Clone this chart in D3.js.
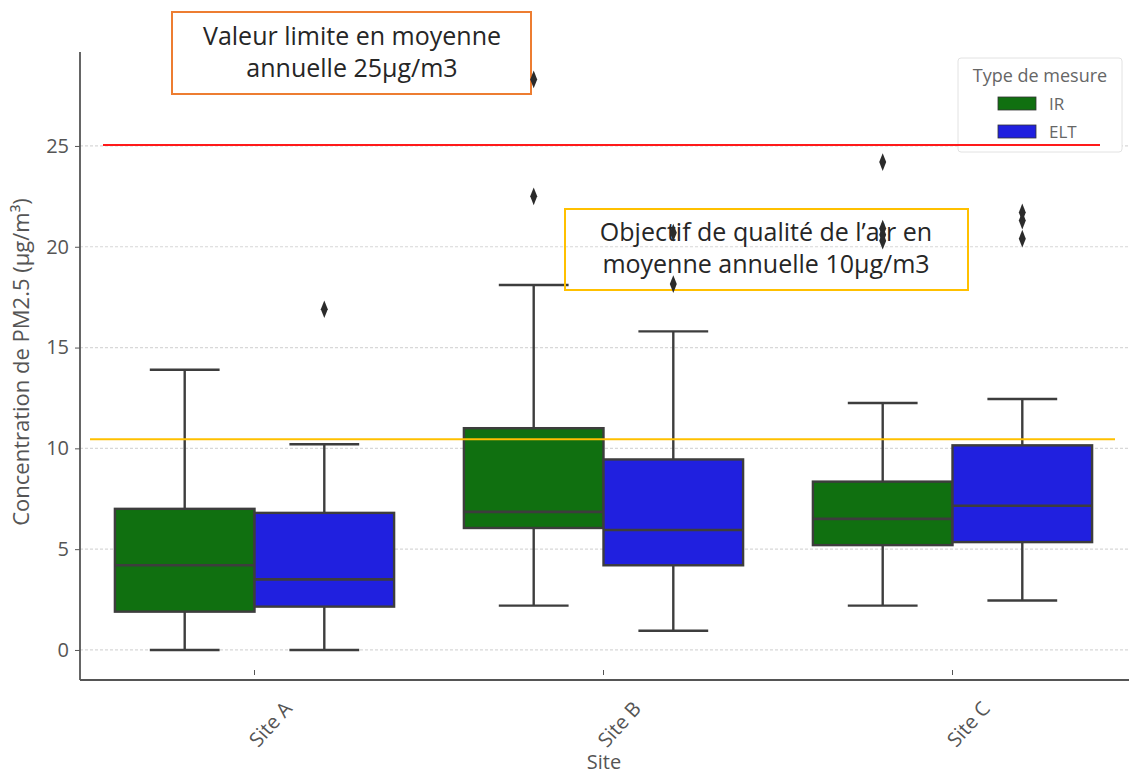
<!DOCTYPE html>
<html>
<head>
<meta charset="utf-8">
<script src="https://cdn.jsdelivr.net/npm/d3@7"></script>
<style>
  body { margin: 0; background: #fff; }
  text { font-family: "Open Sans", "Noto Sans", sans-serif; }
</style>
</head>
<body>
<div id="chart"></div>
<script>
// data
var sites = ["Site A", "Site B", "Site C"];
var mesures = ["IR", "ELT"];
var yTicks = [0, 5, 10, 15, 20, 25];

// box stats per site, per series
var irLow    = [0.0, 2.2, 2.2];
var irQ1     = [1.9, 6.05, 5.2];
var irMedian = [4.2, 6.85, 6.5];
var irQ3     = [7.0, 11.0, 8.35];
var irHigh   = [13.9, 18.1, 12.25];
var irOut    = [[], [22.5, 28.3], [24.2, 20.9, 20.6, 20.3]];

var eltLow    = [0.0, 0.95, 2.45];
var eltQ1     = [2.15, 4.2, 5.35];
var eltMedian = [3.5, 5.95, 7.15];
var eltQ3     = [6.8, 9.45, 10.15];
var eltHigh   = [10.2, 15.8, 12.45];
var eltOut    = [[16.9], [20.7, 18.15], [21.7, 21.3, 20.4]];

var valeurLimite = 25.05;
var objectifQualite = 10.45;

var svgWidth = 1129;
var svgHeight = 778;

var svg = d3.select("#chart")
  .append("svg")
  .attr("width", svgWidth)
  .attr("height", svgHeight);

var x = d3.scaleBand().domain(sites).range([80, 1127]).padding(0);
var xHue = d3.scaleBand().domain(mesures).range([0, x.bandwidth() * 0.8]);
var y = d3.scaleLinear().domain([-1.49, 29.66]).range([680, 52]);
var colors = { "IR": "#107010", "ELT": "#2020df" };

// build series table
var series = [
  { name: "IR", low: irLow, q1: irQ1, med: irMedian, q3: irQ3, high: irHigh, out: irOut },
  { name: "ELT", low: eltLow, q1: eltQ1, med: eltMedian, q3: eltQ3, high: eltHigh, out: eltOut }
];
var boxes = [];
series.forEach(function(s) {
  sites.forEach(function(site, i) {
    boxes.push({ site: site, name: s.name, low: s.low[i], q1: s.q1[i], med: s.med[i],
                 q3: s.q3[i], high: s.high[i], out: s.out[i] });
  });
});
function left(d) { return x(d.site) + x.bandwidth() * 0.1 + xHue(d.name); }
function mid(d) { return left(d) + xHue.bandwidth() / 2; }

// gridlines
svg.append("g")
  .selectAll("line")
  .data(yTicks)
  .enter()
  .append("line")
  .attr("x1", 80).attr("x2", 1129)
  .attr("y1", d => y(d)).attr("y2", d => y(d))
  .attr("stroke", "#d8d8d8")
  .attr("stroke-width", 1.2)
  .attr("stroke-dasharray", "3,2");

// axes
var yAxis = svg.append("g")
  .attr("transform", "translate(80,0)")
  .call(d3.axisLeft(y).tickValues(yTicks).tickSize(5).tickPadding(6));
yAxis.select(".domain").remove();
yAxis.selectAll("line").attr("stroke", "#555");
yAxis.selectAll("text").attr("font-size", "20px").attr("fill", "#555")
  .style("font-family", "'Open Sans', sans-serif");

var xAxis = svg.append("g")
  .attr("transform", "translate(0,680)")
  .call(d3.axisBottom(x).tickSize(5).tickPadding(6));
xAxis.select(".domain").remove();
xAxis.selectAll("line").attr("stroke", "#555").attr("transform", "translate(0,-5) scale(1,-1)");
xAxis.selectAll("text")
  .attr("font-size", "20px").attr("fill", "#555")
  .style("font-family", "'Open Sans', sans-serif")
  .attr("text-anchor", "end")
  .attr("dy", "0.3em")
  .attr("transform", "translate(26,18) rotate(-48)");

// spines
svg.append("line").attr("x1", 80).attr("x2", 80).attr("y1", 52).attr("y2", 680)
  .attr("stroke", "#555").attr("stroke-width", 1.8);
svg.append("line").attr("x1", 80).attr("x2", 1129).attr("y1", 680).attr("y2", 680)
  .attr("stroke", "#555").attr("stroke-width", 1.8);

// boxes
var bx = svg.append("g").selectAll("g").data(boxes).enter().append("g");
var edge = "#3d3d3d";
var capW = xHue.bandwidth() * 0.5;

bx.append("line")
  .attr("x1", mid).attr("x2", mid)
  .attr("y1", d => y(d.q3)).attr("y2", d => y(d.high))
  .attr("stroke", edge).attr("stroke-width", 2.4);
bx.append("line")
  .attr("x1", mid).attr("x2", mid)
  .attr("y1", d => y(d.q1)).attr("y2", d => y(d.low))
  .attr("stroke", edge).attr("stroke-width", 2.4);
bx.append("line")
  .attr("x1", d => mid(d) - capW / 2).attr("x2", d => mid(d) + capW / 2)
  .attr("y1", d => y(d.high)).attr("y2", d => y(d.high))
  .attr("stroke", edge).attr("stroke-width", 2.4);
bx.append("line")
  .attr("x1", d => mid(d) - capW / 2).attr("x2", d => mid(d) + capW / 2)
  .attr("y1", d => y(d.low)).attr("y2", d => y(d.low))
  .attr("stroke", edge).attr("stroke-width", 2.4);
bx.append("rect")
  .attr("x", left)
  .attr("y", d => y(d.q3))
  .attr("width", xHue.bandwidth())
  .attr("height", d => y(d.q1) - y(d.q3))
  .attr("fill", d => colors[d.name])
  .attr("stroke", edge).attr("stroke-width", 2.4);
bx.append("line")
  .attr("x1", left).attr("x2", d => left(d) + xHue.bandwidth())
  .attr("y1", d => y(d.med)).attr("y2", d => y(d.med))
  .attr("stroke", edge).attr("stroke-width", 2.6);

// legend
var lg = svg.append("g").attr("transform", "translate(958,58)");
lg.append("rect").attr("width", 164).attr("height", 94).attr("rx", 3)
  .attr("fill", "#fff").attr("stroke", "#e2e2e2");
lg.append("text").attr("x", 82).attr("y", 24).attr("text-anchor", "middle")
  .attr("font-size", "18px").attr("fill", "#666").text("Type de mesure");
mesures.forEach(function(m, i) {
  lg.append("rect").attr("x", 40).attr("y", 39 + i * 28).attr("width", 38).attr("height", 13)
    .attr("fill", colors[m]).attr("stroke", "#333").attr("stroke-width", 0.8);
  lg.append("text").attr("x", 91).attr("y", 52 + i * 28)
    .attr("font-size", "17px").attr("fill", "#666").text(m);
});

// reference lines
svg.append("line").attr("x1", 103).attr("x2", 1100)
  .attr("y1", y(valeurLimite)).attr("y2", y(valeurLimite))
  .attr("stroke", "#ff1a1a").attr("stroke-width", 2);
svg.append("line").attr("x1", 90).attr("x2", 1115)
  .attr("y1", y(objectifQualite)).attr("y2", y(objectifQualite))
  .attr("stroke", "#ffc000").attr("stroke-width", 2);

// annotation boxes
svg.append("rect").attr("x", 172).attr("y", 12).attr("width", 359).attr("height", 82)
  .attr("fill", "none").attr("stroke", "#ed7d31").attr("stroke-width", 2);
svg.append("text").attr("x", 352).attr("y", 45).attr("text-anchor", "middle")
  .attr("font-size", "25px").attr("fill", "#262626").text("Valeur limite en moyenne");
svg.append("text").attr("x", 352).attr("y", 77).attr("text-anchor", "middle")
  .attr("font-size", "25px").attr("fill", "#262626").text("annuelle 25µg/m3");

svg.append("rect").attr("x", 565).attr("y", 209).attr("width", 403).attr("height", 81)
  .attr("fill", "none").attr("stroke", "#ffc000").attr("stroke-width", 2);
svg.append("text").attr("x", 766).attr("y", 241).attr("text-anchor", "middle")
  .attr("font-size", "25px").attr("fill", "#262626").text("Objectif de qualité de l’air en");
svg.append("text").attr("x", 766).attr("y", 273).attr("text-anchor", "middle")
  .attr("font-size", "25px").attr("fill", "#262626").text("moyenne annuelle 10µg/m3");

// outliers
var pts = [];
boxes.forEach(function(b) {
  b.out.forEach(function(v) { pts.push({ site: b.site, name: b.name, v: v }); });
});
var diamond = d3.symbol().type(d3.symbolDiamond).size(75);
svg.append("g").selectAll("path").data(pts).enter().append("path")
  .attr("d", diamond)
  .attr("transform", d => `translate(${mid(d)},${y(d.v)}) scale(0.75,1.1)`)
  .attr("fill", "#2b2b2b");

// axis titles
svg.append("text")
  .attr("transform", "translate(29,362) rotate(-90)")
  .attr("text-anchor", "middle")
  .attr("font-size", "22px").attr("fill", "#555")
  .text("Concentration de PM2.5 (µg/m³)");
svg.append("text").attr("x", 604).attr("y", 769).attr("text-anchor", "middle")
  .attr("font-size", "20px").attr("fill", "#555").text("Site");
</script>
</body>
</html>
